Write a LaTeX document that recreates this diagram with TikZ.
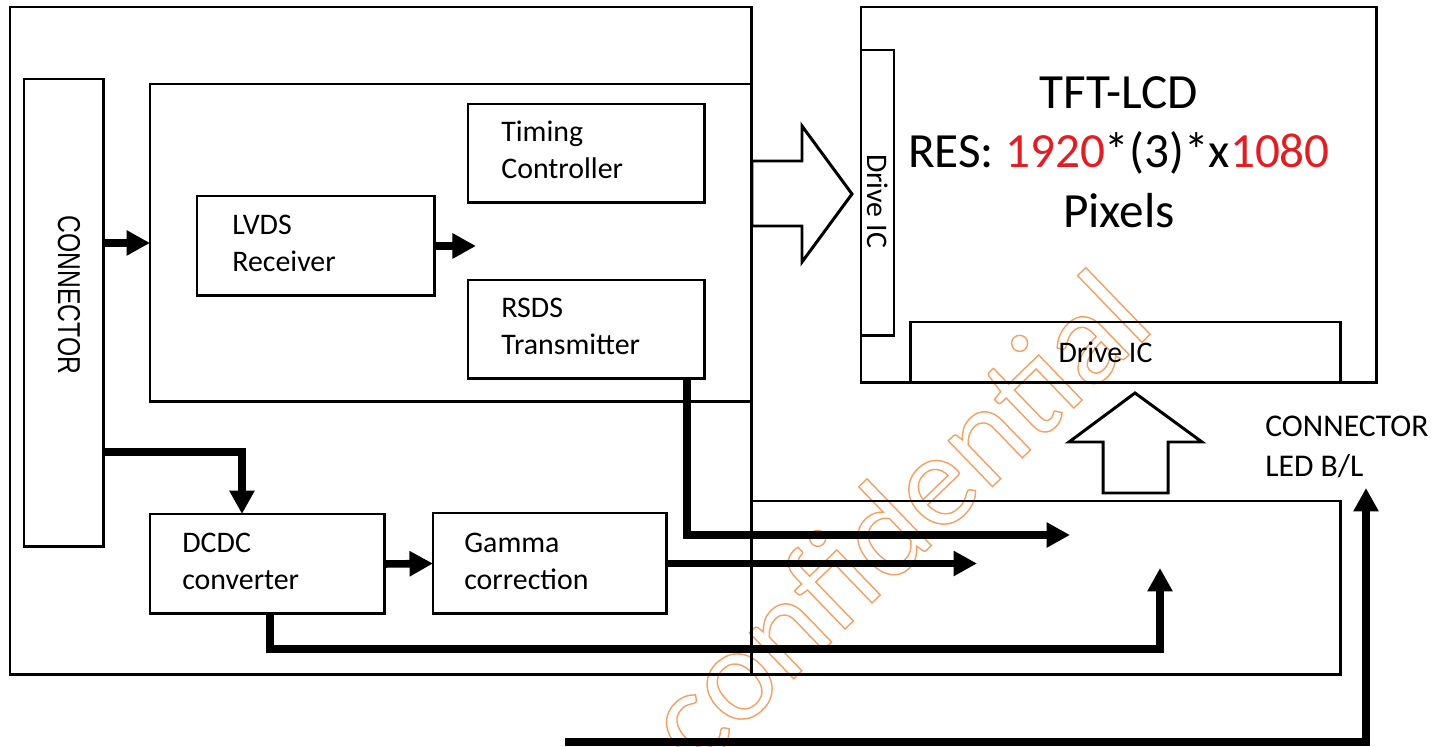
\documentclass[tikz,border=0pt]{standalone}
\usepackage{fontspec}
\setmainfont{Carlito}
\newfontfamily\arialfont{Liberation Sans}
\usepackage{xcolor}
\usetikzlibrary{arrows.meta,positioning}
\definecolor{resred}{RGB}{225,30,35}
\definecolor{wmorange}{RGB}{243,160,100}
\newcommand{\outlinetext}[1]{\special{pdf:literal direct 1 Tr 0.8 w}#1\special{pdf:literal direct 0 Tr}}

\begin{document}
\begin{tikzpicture}[x=0.02cm,y=-0.02cm,
		blk/.style={draw, line width=1.7pt, inner sep=0pt, outer sep=0pt, anchor=north west},
		lbl/.style={font=\fontsize{17}{21}\selectfont, align=left, inner sep=0pt},
		bus/.style={line width=4.3pt, -{Triangle[length=0.47cm,width=0.48cm]}},
		hollow/.style={draw, line width=1.7pt, line join=miter}]
		\useasboundingbox (0,0) rectangle (1455,747);
		\node[rotate=44, inner sep=0pt, text=wmorange, font=\fontsize{76}{76}\selectfont] (wm) at (895,517) {\outlinetext{confidential}};
		% boards
		\node[blk, minimum width=14.84cm, minimum height=13.36cm] (board) at (10,7) {};
		\node[blk, minimum width=12.04cm, minimum height=6.36cm] (tcon) at (150,84) {};
		\node[blk, minimum width=11.78cm, minimum height=3.48cm] (panel) at (752,501) {};
		\node[blk, minimum width=10.32cm, minimum height=7.52cm] (lcd) at (861,7) {};
		% blocks
		\node[blk, minimum width=1.6cm, minimum height=9.36cm] (conn) at (24,79) {};
		\node[blk, minimum width=4.76cm, minimum height=2cm] (lvds) at (197,196) {};
		\node[blk, minimum width=4.74cm, minimum height=1.98cm] (tim) at (468,104) {};
		\node[blk, minimum width=4.74cm, minimum height=1.98cm] (rsds) at (468,280) {};
		\node[blk, minimum width=4.7cm, minimum height=2cm] (dcdc) at (150,514) {};
		\node[blk, minimum width=4.68cm, minimum height=2.02cm] (gam) at (433,513) {};
		\node[blk, minimum width=0.66cm, minimum height=5.72cm] (dicv) at (861,50) {};
		\node[blk, minimum width=8.62cm, minimum height=1.22cm] (dich) at (910,322) {};
		% texts
		\node[lbl, right=0.66cm of tim.west, yshift=0.07cm] (timtxt) {Timing\\Controller};
		\node[lbl, right=0.7cm of lvds.west, yshift=0.06cm] (lvdstxt) {LVDS\\Receiver};
		\node[lbl, right=0.66cm of rsds.west, yshift=0.06cm] (rsdstxt) {RSDS\\Transmitter};
		\node[lbl, right=0.64cm of dcdc.west, yshift=0.05cm] (dcdctxt) {DCDC\\converter};
		\node[lbl, right=0.62cm of gam.west, yshift=0.04cm] (gamtxt) {Gamma\\correction};
		\node[rotate=-90, xscale=0.78, inner sep=0pt, font=\arialfont\fontsize{18}{18}\selectfont] (conntxt) at ([xshift=0.1cm,yshift=0.36cm]conn.center) {CONNECTOR};
		\node[rotate=-90, inner sep=0pt, font=\fontsize{17}{17}\selectfont] (dicvtxt) at ([yshift=-0.16cm]dicv.center) {Drive IC};
		\node[inner sep=0pt, font=\fontsize{17}{17}\selectfont] (dichtxt) at ([xshift=-0.4cm]dich.center) {Drive IC};
		\node[inner sep=0pt, align=center, font=\fontsize{28}{34}\selectfont] (lcdtxt) at ([yshift=0.86cm]lcd.center) {TFT-LCD\\RES: \textcolor{resred}{1920}*(3)*x\textcolor{resred}{1080}\\Pixels};
		\node[inner sep=0pt, align=left, anchor=west, font=\fontsize{18}{23}\selectfont] (cled) at (1265,447) {CONNECTOR\\LED B/L};
		% wide arrows
		\draw[hollow] (752,161) -- (802,161) -- (802,126) -- (852,194) -- (802,262) -- (802,226) -- (752,226) -- cycle;
		\draw[hollow] (1103,493) -- (1103,442) -- (1069,442) -- (1135,393) -- (1202,442) -- (1168,442) -- (1168,493) -- cycle;
		% signal lines
		\coordinate (t1) at (1070,535); \coordinate (t2) at (977,563); \coordinate (t3) at (1160,568);
		\coordinate (bl) at (565,742); \coordinate (t4) at (1366,488);
		\draw[bus] (tcon.west -| conn.east) -- (tcon.west);
		\draw[bus] (lvds.east) -- ++(41,0);
		\draw[bus] ([yshift=-2.78cm]conn.east) -| ([xshift=1.84cm]dcdc.north west);
		\draw[bus] (dcdc.east) -- (gam.west);
		\draw[bus] ([xshift=-0.36cm]rsds.south east) |- (t1);
		\draw[bus] (gam.east) -- (gam.east -| t2);
		\draw[bus] ([xshift=2.4cm]dcdc.south west) -- ++(0,35) -| (t3);
		\draw[bus] (bl) -| (t4);
	\end{tikzpicture}
\end{document}
